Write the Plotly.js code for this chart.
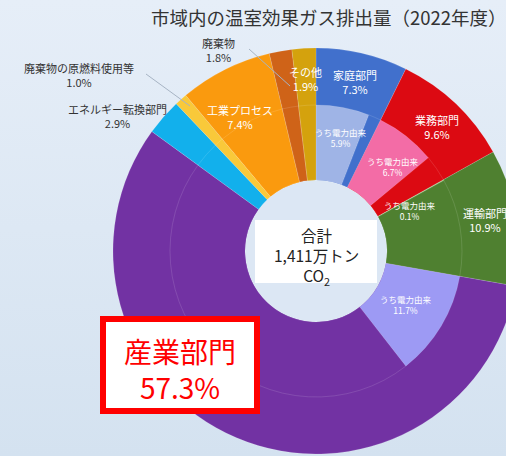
<!DOCTYPE html>
<html>
<head>
<meta charset="utf-8">
<script src="https://cdn.plot.ly/plotly-3.0.1.min.js"></script>
<style>
  html, body { margin: 0; padding: 0; overflow: hidden; width: 506px; height: 456px; }
  body { background: linear-gradient(180deg, #e6eef8 0%, #dde8f4 50%, #d4e2f0 100%); }
  #chart { width: 560px; height: 456px; }
</style>
</head>
<body>
<div id="chart"></div>
<script>
// Sectors, clockwise from 12 o'clock (share of total emissions, %)
const sectors = ['家庭部門', '業務部門', '運輸部門', '産業部門', 'エネルギー転換部門',
                 '廃棄物の原燃料使用等', '工業プロセス', '廃棄物', 'その他'];
const shares = [7.3, 9.6, 10.9, 57.3, 2.9, 1.0, 7.4, 1.8, 1.9];
// Electricity-derived part of each sector (%), 0 where none is shown
const electric = [5.9, 6.7, 0.1, 11.7, 0, 0, 0, 0, 0];
const electricLabel = 'うち電力由来';
const totalLines = ['合計', '1,411万トン', 'CO<sub>2</sub>'];
const chartTitle = '市域内の温室効果ガス排出量（2022年度）';

const sectorColors = ['#4170cc', '#dc0a12', '#4f8030', '#7232a3', '#12b0ec',
                      '#f9c93a', '#fa9a0e', '#cf6318', '#d4a20d'];
const electricColors = ['#9fb4e6', '#f36ca6', '#a9d18e', '#9d9af4', '', '', '', '', ''];

// Page geometry (px) -> paper coordinates
const W = 560, H = 456;
const px = x => x / W;
const py = y => 1 - y / H;
const cx = 316, cy = 251, rOuter = 203, rMid = 146, rHole = 71;

// Inner ring: electricity part first, then the rest of the sector in its own colour
const innerValues = [], innerColors = [];
shares.forEach((v, i) => {
  innerValues.push(electric[i]);
  innerColors.push(electricColors[i] || sectorColors[i]);
  innerValues.push(+(v - electric[i]).toFixed(1));
  innerColors.push(sectorColors[i]);
});

const outer = {
  type: 'pie', values: shares, labels: sectors, sort: false,
  direction: 'clockwise', rotation: 0, hole: rHole / rOuter,
  marker: { colors: sectorColors, line: { color: 'rgba(255,255,255,0.22)', width: 0.6 } },
  textinfo: 'none', hoverinfo: 'none',
  domain: { x: [px(cx - rOuter), px(cx + rOuter)], y: [py(cy + rOuter), py(cy - rOuter)] }
};
const inner = {
  type: 'pie', values: innerValues, labels: innerValues.map((_, i) => 'in' + i), sort: false,
  direction: 'clockwise', rotation: 0, hole: rHole / rMid,
  marker: { colors: innerColors, line: { color: 'rgba(255,255,255,0.16)', width: 0.8 } },
  textinfo: 'none', hoverinfo: 'none',
  domain: { x: [px(cx - rMid), px(cx + rMid)], y: [py(cy + rMid), py(cy - rMid)] }
};

const jp = 'Noto Sans CJK JP, Noto Sans, sans-serif';
const annotations = [];
function label(text, x, y, size, color) {
  annotations.push({ text, x: px(x), y: py(y), xref: 'paper', yref: 'paper',
    showarrow: false, xanchor: 'center', yanchor: 'middle',
    font: { family: jp, size, color } });
}
const pct = v => v.toFixed(1) + '%';

// Sector labels: [x, y, size, colour]
const sectorSpots = [
  [355, 82, 11, '#ffffff'],
  [437, 127, 11, '#ffffff'],
  [485, 220, 11, '#ffffff'],
  null,
  [117, 116, 11, '#333333'],
  [79, 75, 11, '#333333'],
  [240, 117, 11, '#ffffff'],
  [218, 50, 11, '#333333'],
  [305, 79, 11, '#ffffff']
];
sectors.forEach((s, i) => {
  const sp = sectorSpots[i];
  if (sp) label(s + '<br>' + pct(shares[i]), sp[0], sp[1], sp[2], sp[3]);
});
// Electricity-derived labels
const electricSpots = [[341, 137], [393, 166], [410, 210], [406, 304]];
electricSpots.forEach((sp, i) => {
  label(electricLabel + '<br>' + pct(electric[i]), sp[0], sp[1], 8.5, '#ffffff');
});

// Total in the centre
label(totalLines.join('<br>'), cx, 256, 15.5, '#222222');

// Highlighted industrial sector
label(sectors[3] + '<br>' + pct(shares[3]), 180, 369, 28, '#ff0000');

// Title
label(chartTitle, 329, 17, 18.5, '#333333');

const shapes = [
  { type: 'circle', xref: 'paper', yref: 'paper', layer: 'below',
    x0: px(cx - rHole), x1: px(cx + rHole), y0: py(cy + rHole), y1: py(cy - rHole),
    fillcolor: '#dce7f4', line: { width: 0 } },
  { type: 'rect', xref: 'paper', yref: 'paper', layer: 'above',
    x0: px(255), x1: px(377), y0: py(283), y1: py(220),
    fillcolor: '#ffffff', line: { width: 0 } },
  { type: 'rect', xref: 'paper', yref: 'paper', layer: 'above',
    x0: px(103), x1: px(257), y0: py(411), y1: py(319),
    fillcolor: '#ffffff', line: { color: '#ff0000', width: 6 } },
  // leader lines for the small sectors
  { type: 'line', xref: 'paper', yref: 'paper', layer: 'above',
    x0: px(249), y0: py(49), x1: px(290), y1: py(86), line: { color: '#a7b4c4', width: 1 } },
  { type: 'line', xref: 'paper', yref: 'paper', layer: 'above',
    x0: px(146), y0: py(74), x1: px(190), y1: py(106), line: { color: '#a7b4c4', width: 1 } }
];

const layout = {
  width: W, height: H, margin: { l: 0, r: 0, t: 0, b: 0 },
  paper_bgcolor: 'rgba(0,0,0,0)', plot_bgcolor: 'rgba(0,0,0,0)',
  showlegend: false, annotations, shapes
};

Plotly.newPlot('chart', [outer, inner], layout, { displayModeBar: false, staticPlot: true });
</script>
</body>
</html>
